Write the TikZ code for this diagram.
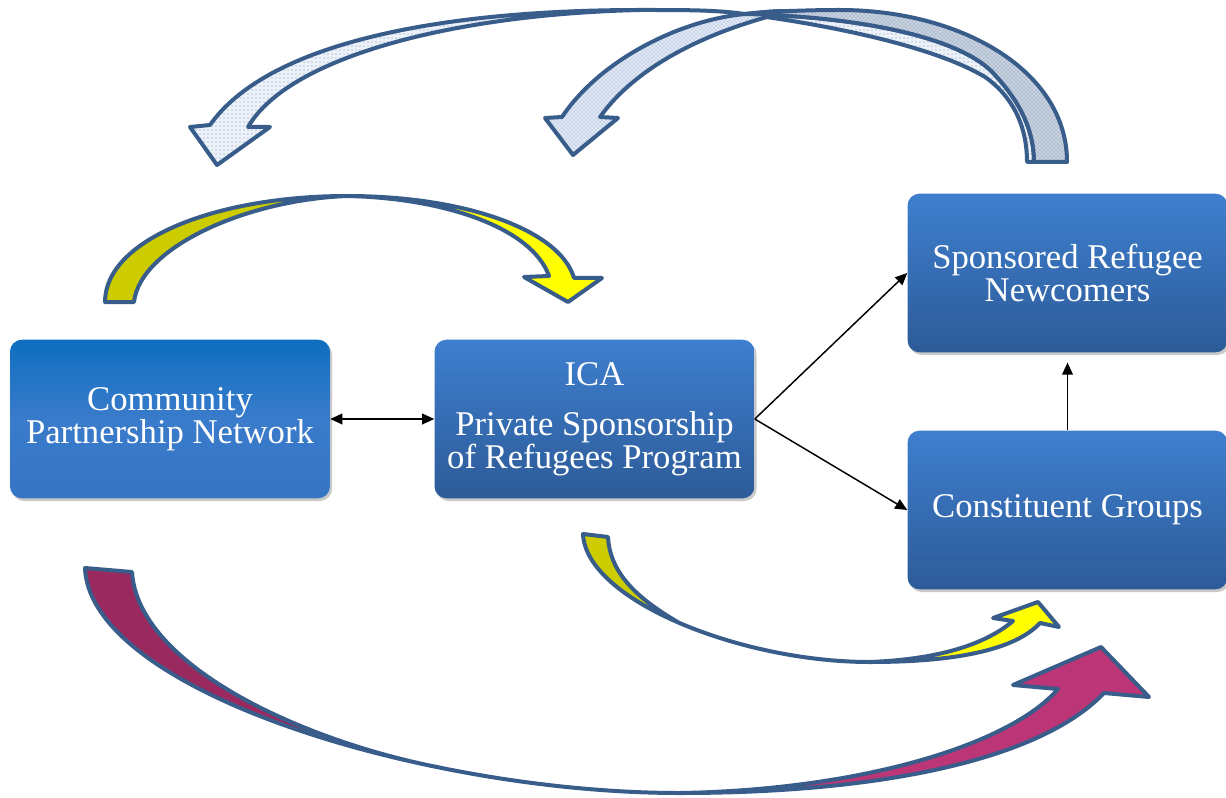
\documentclass[tikz,border=0pt]{standalone}
\usepackage{fontspec}
\setmainfont{Liberation Serif}
\usetikzlibrary{arrows.meta,shadows,patterns}

\definecolor{rimblue}{HTML}{385D8A}
\definecolor{boxtop}{HTML}{3E7FCF}
\definecolor{boxbot}{HTML}{2D5B98}
\definecolor{cpntop}{HTML}{0E6EC0}
\definecolor{cpnmid}{HTML}{3A7BCB}
\definecolor{cpnbot}{HTML}{3675C4}
\definecolor{yellowback}{HTML}{CCCC00}
\definecolor{yellowfront}{HTML}{FFFF00}
\definecolor{plumback}{HTML}{9A295F}
\definecolor{plumfront}{HTML}{BB3577}
\definecolor{dotfill}{HTML}{EDF1F8}
\definecolor{dotink}{HTML}{7393C8}
\definecolor{hatchfill}{HTML}{E3EAF5}
\definecolor{hatchink}{HTML}{6A8CC4}
\definecolor{tailfill}{HTML}{CBD3DF}
\definecolor{tailink}{HTML}{5E7FB0}

\begin{document}
\begin{tikzpicture}[x=0.75pt,y=-0.75pt,
  box/.style={rounded corners=9pt, minimum width=240pt, minimum height=119pt,
    inner sep=0pt, align=center, text=white,
    font=\fontsize{26}{25}\selectfont,
    drop shadow={shadow xshift=1.5pt, shadow yshift=-2pt, opacity=0.35, fill=black!60}},
  bluebox/.style={box, top color=boxtop, bottom color=boxbot},
  cpnbox/.style={box, top color=cpntop, bottom color=cpnbot, middle color=cpnmid},
  link/.style={line width=1.1pt, -{Triangle[length=9pt,width=8pt]}},
  twoway/.style={line width=1.1pt, {Triangle[length=9pt,width=8pt]}-{Triangle[length=9pt,width=8pt]}},
  rim/.style={draw=rimblue, line width=3pt, line join=round},
  dotted band/.style={rim, preaction={fill=dotfill}, pattern=dots, pattern color=dotink},
  hatched band/.style={rim, preaction={fill=hatchfill}, pattern=crosshatch dots, pattern color=hatchink},
  tail band/.style={rim, preaction={fill=tailfill}, pattern=crosshatch dots, pattern color=tailink},
]
\useasboundingbox (0,0) rectangle (1226,798);
\fill[white] (0,0) rectangle (1226,798);

% ---- upper curved arrow towards the Community Partnership Network ----
\path[dotted band] (640,10) .. controls (450,10) and (270,40) .. (210,125)
  -- (190,127) -- (217,165) -- (270,127) -- (248,127)
  .. controls (290,55) and (460,14) .. (640,10) -- cycle;
\draw[rim] (640,10) .. controls (690,10) and (715,10) .. (745,14);
\path[dotted band] (745,14) .. controls (850,28) and (940,50) .. (985,77)
  .. controls (1012,96) and (1027,125) .. (1027,162) -- (1034,162)
  .. controls (1034,130) and (1020,102) .. (995,75)
  .. controls (965,40) and (870,17) .. (745,14) -- cycle;

% ---- upper curved arrow towards ICA ----
\path[hatched band] (562,117) .. controls (600,60) and (680,20) .. (745,14)
  .. controls (765,12) and (775,11) .. (790,11)
  .. controls (690,35) and (630,75) .. (600,117)
  -- (618,118) -- (573,155) -- (545,118) -- cycle;
\path[tail band] (745,14) .. controls (765,12) and (775,11) .. (790,11)
  .. controls (805,10.5) and (820,10) .. (840,10)
  .. controls (960,10) and (1067,70) .. (1067,162) -- (1034,162)
  .. controls (1034,130) and (1020,102) .. (995,75)
  .. controls (965,40) and (870,17) .. (745,14) -- cycle;

% ---- yellow arrow over the top of the left boxes ----
\filldraw[rim, fill=yellowback] (105,302) .. controls (105,240) and (215,196) .. (347,196)
  .. controls (245,200) and (140,248) .. (134,302) -- cycle;
\filldraw[rim, fill=yellowfront] (347,196) .. controls (465,196) and (560,230) .. (574,278)
  -- (602,278) -- (568,302) -- (524,277) -- (549,276)
  .. controls (532,228) and (445,198) .. (347,196) -- cycle;

% ---- yellow arrow below ICA ----
\filldraw[rim, fill=yellowback] (583,534) .. controls (584.5,567) and (623.75,599) .. (678.9,622.75)
  .. controls (640,600) and (610,575) .. (608,537) -- cycle;
\draw[rim] (678.9,622.75) .. controls (734,646.5) and (805,662) .. (870,662);
\filldraw[rim, fill=yellowfront] (870,662) .. controls (955,662) and (1015,650) .. (1040,623)
  -- (1059,627) -- (1038,602) -- (993,618) -- (1013,621)
  .. controls (988,642) and (945,659) .. (870,662) -- cycle;

% ---- magenta arrow along the bottom ----
\filldraw[rim, fill=plumback] (85,568) .. controls (88.5,653.4) and (251.25,729.35) .. (437.8,767.2)
  .. controls (300,740) and (138,665) .. (132,572) -- cycle;
\draw[rim] (437.8,767.2) .. controls (517.7,783.6) and (602,793) .. (680,793);
\filldraw[rim, fill=plumfront] (680,793) .. controls (880,793) and (1040,760) .. (1104,693)
  -- (1149,697) -- (1101,647) -- (1013,685) -- (1058,689)
  .. controls (1010,745) and (860,790) .. (680,793) -- cycle;

% ---- boxes ----
\node[cpnbox]  (cpn) at (170,419)   {Community\\Partnership Network};
\node[bluebox] (ica) at (594.5,419) {ICA\\[12.5pt]Private Sponsorship\\of Refugees Program};
\node[bluebox] (srn) at (1067.5,273) {Sponsored Refugee\\Newcomers};
\node[bluebox] (cg)  at (1067.5,510)  {Constituent Groups};

% ---- connectors ----
\draw[twoway] (cpn.east) -- (ica.west);
\draw[link] (ica.east) -- (srn.west);
\draw[link] (ica.east) -- (cg.west);
\draw[link, shorten >=7.5pt] (cg.north) -- (srn.south);
\end{tikzpicture}
\end{document}
